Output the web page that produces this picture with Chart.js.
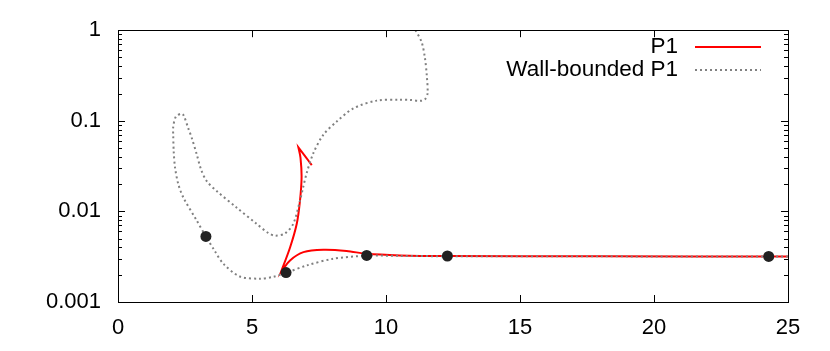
<!DOCTYPE html>
<html>
<head>
<meta charset="utf-8">
<script src="https://cdn.jsdelivr.net/npm/chart.js@4"></script>
<style>
html,body{margin:0;padding:0;background:#fff;}
#wrap{width:830px;height:351px;}
</style>
</head>
<body>
<div id="wrap"><canvas id="c" width="830" height="351"></canvas></div>
<script>
// ---- data ----
const seriesNames = ["P1", "Wall-bounded P1"];

const p1X = [7.23, 7.0, 6.73, 6.73, 6.81, 6.85, 6.79, 6.67, 6.42, 6.08, 6.08, 6.42, 6.92, 7.66, 8.53, 9.28, 10.52, 12.26, 18, 25];
const p1Y = [0.0324, 0.040, 0.051, 0.051, 0.039, 0.0235, 0.0131, 0.0073, 0.0040, 0.00214, 0.00214, 0.00288, 0.00355, 0.00377, 0.00366, 0.0034, 0.00327, 0.00322, 0.00319, 0.00318];

const wallX = [11.10, 11.33, 11.45, 11.52, 11.55, 11.45, 11.27, 10.9, 10.52, 9.65, 8.78, 8.16, 7.66, 7.29, 7.04, 6.9, 6.79, 6.54, 6.23, 5.86, 5.6, 5.17, 4.43, 3.68, 3.31, 3.1, 2.94, 2.75, 2.62, 2.45, 2.37, 2.16, 2.06, 2.06, 2.08, 2.13, 2.25, 2.44, 2.94, 3.28, 3.6, 3.93, 4.55, 5.30, 5.8, 6.29, 7.04, 8.03, 9.28, 10.5, 12.3, 18, 25];
const wallY = [1.0, 0.74, 0.50, 0.32, 0.2, 0.172, 0.166, 0.17, 0.171, 0.167, 0.137, 0.098, 0.070, 0.044, 0.0265, 0.018, 0.0131, 0.0073, 0.0057, 0.0054, 0.0058, 0.0073, 0.0110, 0.0168, 0.0216, 0.029, 0.0424, 0.065, 0.083, 0.115, 0.12, 0.111, 0.085, 0.07, 0.045, 0.0303, 0.020, 0.0142, 0.0079, 0.0053, 0.0037, 0.00265, 0.00191, 0.00181, 0.0019, 0.00211, 0.00253, 0.0030, 0.00324, 0.00323, 0.0032, 0.00319, 0.00318];

const markerX = [3.28, 6.27, 9.28, 12.29, 24.28];
const markerY = [0.0053, 0.00211, 0.00327, 0.00322, 0.00318];

const xTicks = [0, 5, 10, 15, 20, 25];
const yTicks = [1, 0.1, 0.01, 0.001];
const yTickLabels = ["1", "0.1", "0.01", "0.001"];

const toPts = (xs, ys) => xs.map((x, i) => ({x: x, y: ys[i]}));

const FONT = "Liberation Sans, Arial, Helvetica, sans-serif";

const framePlugin = {
  id: 'frame',
  afterDatasetsDraw(chart) {
    const ctx = chart.ctx, a = chart.chartArea;
    const xs = chart.scales.x, ys = chart.scales.y;
    ctx.save();
    ctx.strokeStyle = '#000';
    ctx.lineWidth = 1;
    ctx.beginPath();
    xTicks.forEach(v => {
      const px = Math.round(xs.getPixelForValue(v)) + 0.5;
      ctx.moveTo(px, a.bottom); ctx.lineTo(px, a.bottom - 7);
      ctx.moveTo(px, a.top); ctx.lineTo(px, a.top + 7);
    });
    yTicks.forEach(v => {
      const py = Math.round(ys.getPixelForValue(v)) + 0.5;
      ctx.moveTo(a.left, py); ctx.lineTo(a.left + 7, py);
      ctx.moveTo(a.right, py); ctx.lineTo(a.right - 7, py);
      if (v < 1) {
        for (let m = 2; m <= 9; m++) {
          const pm = Math.round(ys.getPixelForValue(v * m)) + 0.5;
          ctx.moveTo(a.left, pm); ctx.lineTo(a.left + 4, pm);
          ctx.moveTo(a.right, pm); ctx.lineTo(a.right - 4, pm);
        }
      }
    });
    ctx.stroke();
    ctx.strokeRect(Math.round(a.left) + 0.5, Math.round(a.top) + 0.5, Math.round(a.right - a.left), Math.round(a.bottom - a.top));
    ctx.restore();
  },
  afterDraw(chart) {
    const ctx = chart.ctx;
    ctx.save();
    ctx.font = "22.5px " + FONT;
    ctx.fillStyle = '#000';
    ctx.textAlign = 'right';
    ctx.textBaseline = 'middle';
    seriesNames.forEach((name, i) => {
      const d = chart.data.datasets.find(ds => ds.label === name);
      const y = 47 + i * 23;
      ctx.fillText(name, 678, y);
      ctx.strokeStyle = d.borderColor;
      ctx.lineWidth = d.borderWidth;
      ctx.setLineDash(d.borderDash || []);
      ctx.beginPath();
      ctx.moveTo(695, y); ctx.lineTo(761, y);
      ctx.stroke();
    });
    ctx.restore();
  }
};

new Chart(document.getElementById('c'), {
  type: 'scatter',
  data: {
    datasets: [
      {
        data: toPts(markerX, markerY),
        showLine: false,
        pointRadius: 5.5,
        pointBackgroundColor: '#222222',
        pointBorderColor: '#222222',
        pointBorderWidth: 0
      },
      {
        label: seriesNames[1],
        data: toPts(wallX, wallY),
        showLine: true,
        borderColor: '#808080',
        borderWidth: 2,
        borderDash: [2, 3],
        pointRadius: 0,
        tension: 0.3
      },
      {
        label: seriesNames[0],
        data: toPts(p1X, p1Y),
        showLine: true,
        borderColor: '#ff0000',
        borderWidth: 2,
        pointRadius: 0,
        tension: 0.3
      }
    ]
  },
  options: {
    responsive: false,
    animation: false,
    devicePixelRatio: 1,
    layout: { padding: { top: 28, right: 42, left: 0, bottom: 0 } },
    plugins: { legend: { display: false }, tooltip: { enabled: false } },
    scales: {
      x: {
        type: 'linear', min: 0, max: 25,
        afterBuildTicks: s => { s.ticks = xTicks.map(v => ({value: v})); },
        afterFit: s => { s.height = 49; },
        grid: { display: false, drawTicks: false },
        border: { display: false },
        ticks: { color: '#000', font: { family: FONT, size: 22 }, padding: 13, maxRotation: 0 }
      },
      y: {
        type: 'logarithmic', min: 0.001, max: 1,
        afterBuildTicks: s => { s.ticks = yTicks.map(v => ({value: v})); },
        afterFit: s => { s.width = 118; },
        grid: { display: false, drawTicks: false },
        border: { display: false },
        ticks: {
          color: '#000', font: { family: FONT, size: 22 }, padding: 17,
          callback: (v) => { const i = yTicks.indexOf(v); return i >= 0 ? yTickLabels[i] : ''; }
        }
      }
    }
  },
  plugins: [framePlugin]
});
</script>
</body>
</html>
